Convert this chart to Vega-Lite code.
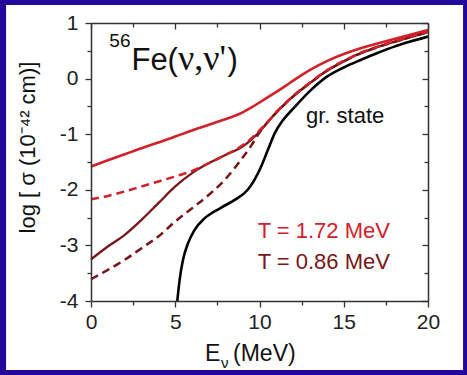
{
  "$schema": "https://vega.github.io/schema/vega-lite/v6.json",
  "width": 337,
  "height": 278,
  "autosize": {"type": "none"},
  "padding": {"left": 91, "top": 23, "right": 39, "bottom": 74},
  "background": "#21079a",
  "config": {
    "view": {"stroke": null, "fill": null},
    "axis": {"grid": false, "labelFont": "Liberation Sans", "labelFontSize": 21, "labelColor": "#222222", "tickColor": "#333333", "tickWidth": 1.3, "domainColor": "#333333", "domainWidth": 1.5, "labelFlush": false, "labelOverlap": false},
    "text": {"font": "Liberation Sans"}
  },
  "datasets": {
    "curves": [
      {"s": "gs", "E": 5.12, "v": -4.0}, {"s": "gs", "E": 5.26, "v": -3.62}, {"s": "gs", "E": 5.46, "v": -3.26}, {"s": "gs", "E": 5.76, "v": -2.96}, {"s": "gs", "E": 6.15, "v": -2.72}, {"s": "gs", "E": 6.75, "v": -2.51}, {"s": "gs", "E": 7.73, "v": -2.32}, {"s": "gs", "E": 8.53, "v": -2.18}, {"s": "gs", "E": 9.3, "v": -2.0}, {"s": "gs", "E": 9.7, "v": -1.82}, {"s": "gs", "E": 10.1, "v": -1.58}, {"s": "gs", "E": 10.5, "v": -1.28}, {"s": "gs", "E": 10.9, "v": -0.985}, {"s": "gs", "E": 11.4, "v": -0.745}, {"s": "gs", "E": 12.0, "v": -0.54}, {"s": "gs", "E": 13.0, "v": -0.22}, {"s": "gs", "E": 14.0, "v": 0.035}, {"s": "gs", "E": 15.0, "v": 0.2}, {"s": "gs", "E": 16.0, "v": 0.335}, {"s": "gs", "E": 17.0, "v": 0.46}, {"s": "gs", "E": 18.0, "v": 0.575}, {"s": "gs", "E": 19.0, "v": 0.67}, {"s": "gs", "E": 20.0, "v": 0.755},

      {"s": "a", "E": 0, "v": -1.58}, {"s": "a", "E": 1, "v": -1.47}, {"s": "a", "E": 2, "v": -1.36}, {"s": "a", "E": 3, "v": -1.25}, {"s": "a", "E": 4, "v": -1.15}, {"s": "a", "E": 5, "v": -1.04}, {"s": "a", "E": 6, "v": -0.93}, {"s": "a", "E": 7, "v": -0.83}, {"s": "a", "E": 8, "v": -0.73}, {"s": "a", "E": 8.5, "v": -0.675}, {"s": "a", "E": 9, "v": -0.61}, {"s": "a", "E": 9.5, "v": -0.525}, {"s": "a", "E": 10, "v": -0.43}, {"s": "a", "E": 10.5, "v": -0.335}, {"s": "a", "E": 11, "v": -0.24}, {"s": "a", "E": 11.5, "v": -0.14}, {"s": "a", "E": 12, "v": -0.035}, {"s": "a", "E": 12.5, "v": 0.065}, {"s": "a", "E": 13, "v": 0.16}, {"s": "a", "E": 14, "v": 0.32}, {"s": "a", "E": 15, "v": 0.445}, {"s": "a", "E": 16, "v": 0.55}, {"s": "a", "E": 17, "v": 0.635}, {"s": "a", "E": 18, "v": 0.71}, {"s": "a", "E": 19, "v": 0.79}, {"s": "a", "E": 20, "v": 0.875},

      {"s": "b", "E": 0, "v": -2.17}, {"s": "b", "E": 1, "v": -2.11}, {"s": "b", "E": 2, "v": -2.03}, {"s": "b", "E": 3, "v": -1.94}, {"s": "b", "E": 4, "v": -1.85}, {"s": "b", "E": 5, "v": -1.76}, {"s": "b", "E": 6, "v": -1.66}, {"s": "b", "E": 7, "v": -1.52}, {"s": "b", "E": 8, "v": -1.37}, {"s": "b", "E": 9, "v": -1.2}, {"s": "b", "E": 9.5, "v": -1.08}, {"s": "b", "E": 10, "v": -0.93}, {"s": "b", "E": 10.5, "v": -0.775}, {"s": "b", "E": 11, "v": -0.6}, {"s": "b", "E": 11.5, "v": -0.45}, {"s": "b", "E": 12, "v": -0.31}, {"s": "b", "E": 13, "v": -0.07}, {"s": "b", "E": 14, "v": 0.15}, {"s": "b", "E": 15, "v": 0.32}, {"s": "b", "E": 16, "v": 0.465}, {"s": "b", "E": 17, "v": 0.575}, {"s": "b", "E": 18, "v": 0.67}, {"s": "b", "E": 19, "v": 0.76}, {"s": "b", "E": 20, "v": 0.845},

      {"s": "c", "E": 0, "v": -3.25}, {"s": "c", "E": 1, "v": -3.02}, {"s": "c", "E": 2, "v": -2.81}, {"s": "c", "E": 3, "v": -2.54}, {"s": "c", "E": 4, "v": -2.24}, {"s": "c", "E": 5, "v": -1.94}, {"s": "c", "E": 6, "v": -1.7}, {"s": "c", "E": 7, "v": -1.52}, {"s": "c", "E": 8, "v": -1.37}, {"s": "c", "E": 9, "v": -1.22}, {"s": "c", "E": 9.5, "v": -1.1}, {"s": "c", "E": 10, "v": -0.955}, {"s": "c", "E": 10.5, "v": -0.78}, {"s": "c", "E": 11, "v": -0.61}, {"s": "c", "E": 11.5, "v": -0.46}, {"s": "c", "E": 12, "v": -0.32}, {"s": "c", "E": 13, "v": -0.08}, {"s": "c", "E": 14, "v": 0.14}, {"s": "c", "E": 15, "v": 0.31}, {"s": "c", "E": 16, "v": 0.455}, {"s": "c", "E": 17, "v": 0.565}, {"s": "c", "E": 18, "v": 0.66}, {"s": "c", "E": 19, "v": 0.75}, {"s": "c", "E": 20, "v": 0.835},

      {"s": "d", "E": 0, "v": -3.61}, {"s": "d", "E": 1, "v": -3.44}, {"s": "d", "E": 2, "v": -3.26}, {"s": "d", "E": 3, "v": -3.05}, {"s": "d", "E": 4, "v": -2.84}, {"s": "d", "E": 5, "v": -2.57}, {"s": "d", "E": 6, "v": -2.33}, {"s": "d", "E": 7, "v": -2.09}, {"s": "d", "E": 8, "v": -1.8}, {"s": "d", "E": 8.5, "v": -1.62}, {"s": "d", "E": 9, "v": -1.42}, {"s": "d", "E": 9.5, "v": -1.21}, {"s": "d", "E": 10, "v": -0.97}, {"s": "d", "E": 10.5, "v": -0.775}, {"s": "d", "E": 11, "v": -0.61}, {"s": "d", "E": 11.5, "v": -0.46}, {"s": "d", "E": 12, "v": -0.32}, {"s": "d", "E": 13, "v": -0.08}, {"s": "d", "E": 14, "v": 0.14}, {"s": "d", "E": 15, "v": 0.31}, {"s": "d", "E": 16, "v": 0.455}, {"s": "d", "E": 17, "v": 0.565}, {"s": "d", "E": 18, "v": 0.66}, {"s": "d", "E": 19, "v": 0.75}, {"s": "d", "E": 20, "v": 0.835}
    ]
  },
  "layer": [
    {
      "data": {"values": [{"x1": -5.04, "x2": 22.08, "y1": 1.324, "y2": -5.241}]},
      "mark": {"type": "rect", "fill": "#ffffff", "clip": false},
      "encoding": {
        "x": {"field": "x1", "type": "quantitative", "axis": null, "scale": {"domain": [0, 20], "nice": false, "zero": false}},
        "x2": {"field": "x2"},
        "y": {"field": "y1", "type": "quantitative", "axis": null, "scale": {"domain": [-4, 1], "nice": false, "zero": false}},
        "y2": {"field": "y2"}
      }
    },
    {
      "data": {"name": "curves"},
      "transform": [{"filter": "datum.s == 'gs'"}],
      "mark": {"type": "line", "stroke": "#000000", "strokeWidth": 2.6, "interpolate": "monotone", "clip": true},
      "encoding": {"x": {"field": "E", "type": "quantitative", "axis": null}, "y": {"field": "v", "type": "quantitative", "axis": null}}
    },
    {
      "data": {"name": "curves"},
      "transform": [{"filter": "datum.s == 'd'"}],
      "mark": {"type": "line", "stroke": "#7a1518", "strokeWidth": 2.5, "strokeDash": [8, 5], "interpolate": "monotone"},
      "encoding": {"x": {"field": "E", "type": "quantitative", "axis": null}, "y": {"field": "v", "type": "quantitative", "axis": null}}
    },
    {
      "data": {"name": "curves"},
      "transform": [{"filter": "datum.s == 'c'"}],
      "mark": {"type": "line", "stroke": "#7a1518", "strokeWidth": 2.3, "interpolate": "monotone"},
      "encoding": {"x": {"field": "E", "type": "quantitative", "axis": null}, "y": {"field": "v", "type": "quantitative", "axis": null}}
    },
    {
      "data": {"name": "curves"},
      "transform": [{"filter": "datum.s == 'a'"}],
      "mark": {"type": "line", "stroke": "#d3202a", "strokeWidth": 2.6, "interpolate": "basis"},
      "encoding": {"x": {"field": "E", "type": "quantitative", "axis": null}, "y": {"field": "v", "type": "quantitative", "axis": null}}
    },
    {
      "data": {"name": "curves"},
      "transform": [{"filter": "datum.s == 'b'"}],
      "mark": {"type": "line", "stroke": "#d3202a", "strokeWidth": 2.5, "strokeDash": [8, 5], "interpolate": "monotone"},
      "encoding": {"x": {"field": "E", "type": "quantitative", "axis": null}, "y": {"field": "v", "type": "quantitative", "axis": null}}
    },
    {
      "data": {"values": [{"E": 1.09, "v": 0.568, "t": "56"}]},
      "mark": {"type": "text", "fontSize": 19, "align": "left", "baseline": "alphabetic", "color": "#111111"},
      "encoding": {"x": {"field": "E", "type": "quantitative", "axis": null}, "y": {"field": "v", "type": "quantitative", "axis": null}, "text": {"field": "t"}}
    },
    {
      "data": {"values": [{"E": 2.4, "v": 0.155, "t": "Fe("}, {"E": 8.1, "v": 0.155, "t": ")"}]},
      "mark": {"type": "text", "fontSize": 31, "align": "left", "baseline": "alphabetic", "color": "#111111"},
      "encoding": {"x": {"field": "E", "type": "quantitative", "axis": null}, "y": {"field": "v", "type": "quantitative", "axis": null}, "text": {"field": "t"}}
    },
    {
      "data": {"values": [{"E": 5.16, "v": 0.155, "t": "ν,ν'"}]},
      "mark": {"type": "text", "font": "Liberation Serif", "fontSize": 36, "align": "left", "baseline": "alphabetic", "color": "#111111"},
      "encoding": {"x": {"field": "E", "type": "quantitative", "axis": null}, "y": {"field": "v", "type": "quantitative", "axis": null}, "text": {"field": "t"}}
    },
    {
      "data": {"values": [{"E": 12.76, "v": -0.804, "t": "gr. state"}]},
      "mark": {"type": "text", "fontSize": 22, "align": "left", "baseline": "alphabetic", "color": "#111111"},
      "encoding": {"x": {"field": "E", "type": "quantitative", "axis": null}, "y": {"field": "v", "type": "quantitative", "axis": null}, "text": {"field": "t"}}
    },
    {
      "data": {"values": [{"E": 9.89, "v": -2.872, "t": "T = 1.72 MeV"}]},
      "mark": {"type": "text", "fontSize": 22, "align": "left", "baseline": "alphabetic", "color": "#d3202a"},
      "encoding": {"x": {"field": "E", "type": "quantitative", "axis": null}, "y": {"field": "v", "type": "quantitative", "axis": null}, "text": {"field": "t"}}
    },
    {
      "data": {"values": [{"E": 9.89, "v": -3.43, "t": "T = 0.86 MeV"}]},
      "mark": {"type": "text", "fontSize": 22, "align": "left", "baseline": "alphabetic", "color": "#7a1518"},
      "encoding": {"x": {"field": "E", "type": "quantitative", "axis": null}, "y": {"field": "v", "type": "quantitative", "axis": null}, "text": {"field": "t"}}
    },
    {
      "data": {"values": [{"E": 6.77, "v": -5.079, "t": "E"}, {"E": 8.43, "v": -5.079, "t": "(MeV)"}]},
      "mark": {"type": "text", "fontSize": 23, "align": "left", "baseline": "alphabetic", "color": "#111111", "clip": false},
      "encoding": {"x": {"field": "E", "type": "quantitative", "axis": null}, "y": {"field": "v", "type": "quantitative", "axis": null}, "text": {"field": "t"}}
    },
    {
      "data": {"values": [{"E": 7.72, "v": -5.205, "t": "ν"}]},
      "mark": {"type": "text", "fontSize": 15, "align": "left", "baseline": "alphabetic", "color": "#111111"},
      "encoding": {"x": {"field": "E", "type": "quantitative", "axis": null}, "y": {"field": "v", "type": "quantitative", "axis": null}, "text": {"field": "t"}}
    },
    {
      "data": {"values": [{"E": -3.3, "v": -1.24, "t": "log [ σ  (10⁻⁴² cm)]"}]},
      "mark": {"type": "text", "fontSize": 22, "angle": 270, "align": "center", "baseline": "alphabetic", "color": "#111111"},
      "encoding": {"x": {"field": "E", "type": "quantitative", "axis": null}, "y": {"field": "v", "type": "quantitative", "axis": null}, "text": {"field": "t"}}
    },
    {
      "data": {"values": [{"E": 0, "v": -4}]},
      "mark": {"type": "point", "opacity": 0},
      "encoding": {
        "x": {"field": "E", "type": "quantitative", "scale": {"domain": [0, 20], "nice": false, "zero": false}, "axis": {"orient": "bottom", "zindex": 3, "title": null, "values": [0, 5, 10, 15, 20], "tickSize": 6, "labelPadding": 4, "domain": true}},
        "y": {"field": "v", "type": "quantitative", "scale": {"domain": [-4, 1], "nice": false, "zero": false}, "axis": {"orient": "left", "zindex": 3, "title": null, "values": [-4, -3, -2, -1, 0, 1], "tickSize": 6, "labelPadding": 7, "domain": true, "labelExpr": "'' + datum.value"}}
      }
    },
    {
      "data": {"values": [{"E": 0, "v": -4}]},
      "mark": {"type": "point", "opacity": 0},
      "encoding": {
        "x": {"field": "E", "type": "quantitative", "axis": {"orient": "bottom", "zindex": 3, "title": null, "values": [2.5, 7.5, 12.5, 17.5], "tickSize": 4, "labels": false, "domain": false}},
        "y": {"field": "v", "type": "quantitative", "axis": {"orient": "left", "zindex": 3, "title": null, "values": [-3.5, -2.5, -1.5, -0.5, 0.5], "tickSize": 4, "labels": false, "domain": false}}
      }
    },
    {
      "data": {"values": [{"E": 0, "v": -4}]},
      "mark": {"type": "point", "opacity": 0},
      "encoding": {
        "x": {"field": "E", "type": "quantitative", "axis": {"orient": "top", "zindex": 3, "title": null, "values": [0, 5, 10, 15, 20], "tickSize": -6, "labels": false, "domain": true}},
        "y": {"field": "v", "type": "quantitative", "axis": {"orient": "right", "zindex": 3, "title": null, "values": [-4, -3, -2, -1, 0, 1], "tickSize": -6, "labels": false, "domain": true}}
      }
    },
    {
      "data": {"values": [{"E": 0, "v": -4}]},
      "mark": {"type": "point", "opacity": 0},
      "encoding": {
        "x": {"field": "E", "type": "quantitative", "axis": {"orient": "top", "zindex": 3, "title": null, "values": [2.5, 7.5, 12.5, 17.5], "tickSize": -4, "labels": false, "domain": false}},
        "y": {"field": "v", "type": "quantitative", "axis": {"orient": "right", "zindex": 3, "title": null, "values": [-3.5, -2.5, -1.5, -0.5, 0.5], "tickSize": -4, "labels": false, "domain": false}}
      }
    }
  ],
  "resolve": {"axis": {"x": "independent", "y": "independent"}}
}
